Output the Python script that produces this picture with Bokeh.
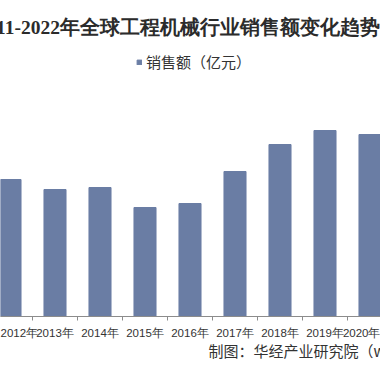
from bokeh.plotting import figure
from bokeh.models import Range1d, FixedTicker, Title
from bokeh.embed import file_html
from bokeh.resources import INLINE

# ---- data (visible years only) ----
years = [2012, 2013, 2014, 2015, 2016, 2017, 2018, 2019, 2020]
sales = [1370, 1270, 1290, 1090, 1130, 1450, 1720, 1860, 1820]
year_labels = [f"{y}年" for y in years]
title_text = "2011-2022年全球工程机械行业销售额变化趋势"
series_name = "销售额（亿元）"
credit_text = "制图：华经产业研究院（www.huaon.com）"

BAR = "#6a7da4"
FONT = "Noto Sans CJK SC"

p = figure(width=380, height=381, output_backend="svg", toolbar_location=None,
           x_range=Range1d(2011.7889, 2020.2333), y_range=Range1d(0, 2710),
           y_axis_location=None,
           min_border_left=0, min_border_right=0, min_border_top=45, min_border_bottom=65)
p.outline_line_color = None
p.xgrid.visible = False
p.ygrid.visible = False
p.background_fill_color = "white"
p.border_fill_color = "white"

p.vbar(x=years, top=sales, width=0.49, color=BAR, legend_label=series_name)

ax = p.xaxis[0]
ax.ticker = FixedTicker(ticks=years, minor_ticks=[2011.5] + [y + 0.5 for y in years])
ax.major_label_overrides = {y: lab for y, lab in zip(years, year_labels)}
ax.major_tick_line_color = None
ax.major_tick_in = 0
ax.major_tick_out = 0
ax.minor_tick_in = 0
ax.minor_tick_out = 4
ax.minor_tick_line_color = "#8c8c8c"
ax.axis_line_color = "#8c8c8c"
ax.major_label_text_font = "Liberation Sans"
ax.major_label_text_font_size = "11.5px"
ax.major_label_text_color = "#333333"
ax.major_label_standoff = 6

lg = p.legend[0]
lg.location = (136, 244)
lg.margin = 0
lg.padding = 0
lg.border_line_color = None
lg.background_fill_alpha = 0
lg.glyph_width = 6
lg.glyph_height = 6
lg.label_standoff = 4
lg.label_text_font = FONT
lg.label_text_font_size = "15px"
lg.label_text_color = "#333333"

p.add_layout(Title(text=title_text, align="left", offset=-24,
                   text_font="Liberation Serif", text_font_style="bold", text_font_size="19.5px",
                   text_color="#2b2b2b", standoff=16), "above")
p.add_layout(Title(text=credit_text, align="left", offset=208,
                   text_font=FONT, text_font_style="normal", text_font_size="15px",
                   text_color="#333333", standoff=-7), "below")

open("out.html", "w").write(file_html(p, INLINE))
